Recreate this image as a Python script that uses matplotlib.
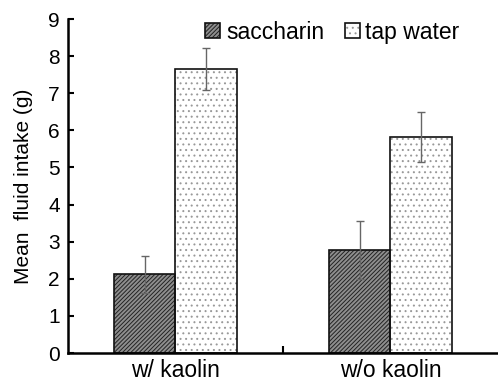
import numpy as np
import matplotlib
matplotlib.use("Agg")
import matplotlib.pyplot as plt
from matplotlib.legend_handler import HandlerTuple

plt.rcParams['font.family'] = ['Liberation Sans', 'DejaVu Sans']
plt.rcParams['hatch.linewidth'] = 0.7

groups = ["w/ kaolin", "w/o kaolin"]
saccharin = [2.12, 2.78]
saccharin_err = [0.49, 0.78]
tap_water = [7.65, 5.82]
tap_water_err = [0.57, 0.68]

x = np.arange(len(groups))
w = 0.288

fig = plt.figure(figsize=(4.98, 3.85), dpi=100)
ax = fig.add_axes([0.1365, 0.083, 0.8635, 0.8676])

# filled + hatched bars (hatch colour comes from edgecolor)
b1 = ax.bar(x - w/2, saccharin, w, color='#8e8e8e', edgecolor='#222222', hatch='////////',
            linewidth=0, zorder=2)
b2 = ax.bar(x + w/2, tap_water, w, color='white', edgecolor='#999999', hatch='...',
            linewidth=0, zorder=2)
# dark outlines on top
o1 = ax.bar(x - w/2, saccharin, w, fill=False, edgecolor='#111111', linewidth=1.2, zorder=2.5)
o2 = ax.bar(x + w/2, tap_water, w, fill=False, edgecolor='#111111', linewidth=1.2, zorder=2.5)

ax.errorbar(x - w/2, saccharin, yerr=saccharin_err, fmt='none', ecolor='#666666',
            elinewidth=1.0, capsize=3, capthick=1.0, zorder=3)
ax.errorbar(x + w/2, tap_water, yerr=tap_water_err, fmt='none', ecolor='#666666',
            elinewidth=1.0, capsize=3, capthick=1.0, zorder=3)

ax.set_xlim(-0.5, 1.5)
ax.set_ylim(0, 9)
ax.set_yticks(range(0, 10))
ax.set_xticks([0.5])
ax.set_xticklabels([''])
ax.set_xticks(x, minor=True)
ax.set_xticklabels(groups, minor=True, fontsize=16.5)
ax.tick_params(axis='x', which='minor', length=0, pad=4)
ax.tick_params(axis='x', which='major', direction='in', length=5, width=1.5)
ax.tick_params(axis='y', direction='in', length=4, width=1.5, labelsize=15, pad=6)

for s in ['top', 'right']:
    ax.spines[s].set_visible(False)
for s in ['left', 'bottom']:
    ax.spines[s].set_linewidth(1.8)

ax.set_ylabel('Mean  fluid intake (g)', fontsize=15, labelpad=11)

ax.legend([(b1[0], o1[0]), (b2[0], o2[0])], ['saccharin', 'tap water'],
          handler_map={tuple: HandlerTuple(ndivide=1, pad=0)},
          loc='upper center', bbox_to_anchor=(0.615, 1.022), ncol=2,
          frameon=False, fontsize=16.5, handlelength=0.65, handleheight=0.65,
          handletextpad=0.25, columnspacing=0.9, borderaxespad=0.0)

fig.savefig('out.png', dpi=100)
